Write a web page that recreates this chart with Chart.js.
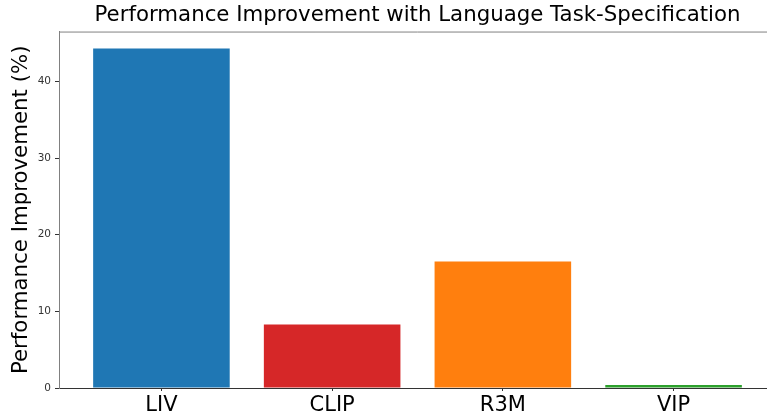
<!DOCTYPE html>
<html>
<head>
<meta charset="utf-8">
<script src="https://cdn.jsdelivr.net/npm/chart.js@4"></script>
<style>
  html, body { margin: 0; padding: 0; background: #fff; overflow: hidden; }
  #wrap { width: 780px; height: 415px; }
</style>
</head>
<body>
<div id="wrap"><canvas id="chart-area" width="780" height="415"></canvas></div>
<script>
var methods = ['LIV', 'CLIP', 'R3M', 'VIP'];
var improvement = [44.3, 8.3, 16.5, 0.4];
var barColors = ['#1f77b4', '#d62728', '#ff7f0e', '#2ca02c'];
var yTicks = [0, 10, 20, 30, 40];

var points = methods.map(function(m, i) {
    return {x: i, y: improvement[i]};
});

// matplotlib draws a top spine; chart.js has none
var topSpine = {
    id: 'topSpine',
    afterDraw: function(chart) {
        var a = chart.chartArea, ctx = chart.ctx;
        ctx.save();
        ctx.strokeStyle = '#808080';
        ctx.lineWidth = 1;
        ctx.beginPath();
        ctx.moveTo(a.left, a.top + 0.5);
        ctx.lineTo(a.right, a.top + 0.5);
        ctx.stroke();
        ctx.restore();
    }
};

var config = {
    type: 'bar',
    data: {
        datasets: [{
            data: points,
            backgroundColor: barColors,
            borderWidth: 0,
            barPercentage: 0.8,
            categoryPercentage: 1.0
        }]
    },
    options: {
        responsive: false,
        animation: false,
        layout: {padding: {left: 0, right: 4, top: 0, bottom: 0}},
        plugins: {
            legend: {display: false},
            tooltip: {enabled: false},
            title: {
                display: true,
                fullSize: false,
                text: 'Performance Improvement with Language Task-Specification',
                color: '#000',
                font: {family: 'DejaVu Sans', size: 21.3, weight: 'normal', lineHeight: 1.2},
                padding: {top: 3, bottom: 3}
            }
        },
        scales: {
            x: {
                type: 'linear',
                offset: false,
                min: -0.6,
                max: 3.6,
                afterBuildTicks: function(scale) {
                    scale.ticks = methods.map(function(m, i) { return {value: i}; });
                },
                afterFit: function(scale) { scale.height = 27; },
                ticks: {
                    color: '#000',
                    font: {family: 'DejaVu Sans', size: 21},
                    padding: 2,
                    maxRotation: 0,
                    callback: function(v) { return methods[v]; }
                },
                grid: {offset: false, drawOnChartArea: false, drawTicks: true, tickLength: 3, color: '#333'},
                border: {display: true, color: '#333', width: 1}
            },
            y: {
                min: 0,
                max: 46.5,
                afterBuildTicks: function(scale) {
                    scale.ticks = yTicks.map(function(v) { return {value: v}; });
                },
                afterFit: function(scale) { scale.width = 59; },
                ticks: {
                    color: '#333',
                    font: {family: 'DejaVu Sans', size: 10.5},
                    padding: 4
                },
                grid: {drawOnChartArea: false, drawTicks: true, tickLength: 4, color: '#333'},
                border: {display: true, color: '#808080', width: 1},
                title: {
                    display: true,
                    text: 'Performance Improvement (%)',
                    color: '#000',
                    font: {family: 'DejaVu Sans', size: 21.3},
                    padding: {top: 9, bottom: 0}
                }
            }
        }
    },
    plugins: [topSpine]
};

var ctx = document.getElementById('chart-area').getContext('2d');
window.myBars = new Chart(ctx, config);
</script>
</body>
</html>
